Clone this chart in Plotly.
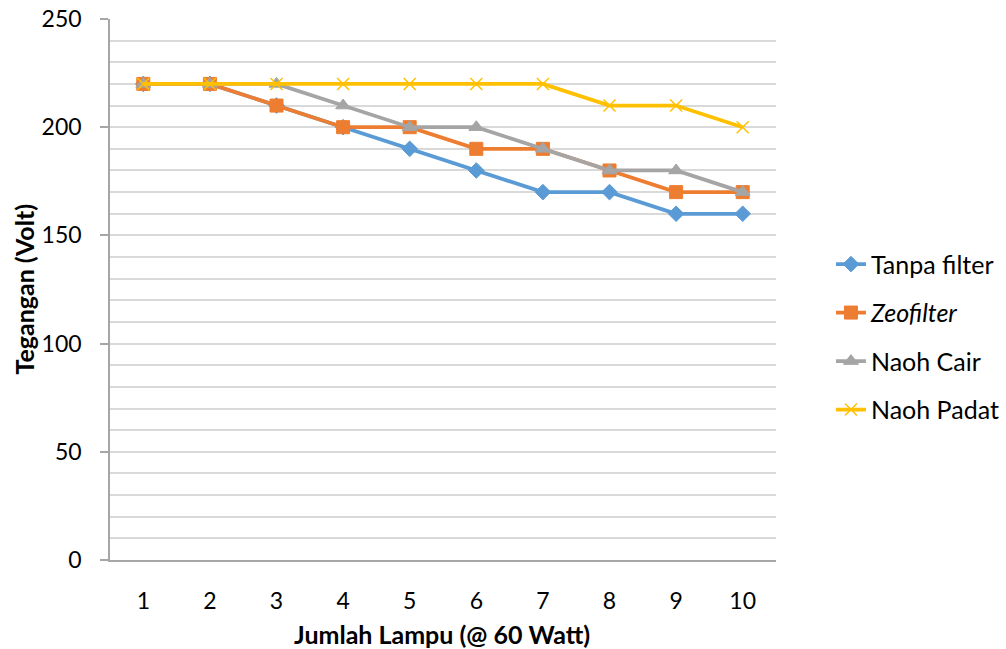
import plotly.graph_objects as go

categories = [1, 2, 3, 4, 5, 6, 7, 8, 9, 10]
tanpa_filter = [220, 220, 210, 200, 190, 180, 170, 170, 160, 160]
zeofilter = [220, 220, 210, 200, 200, 190, 190, 180, 170, 170]
naoh_cair = [220, 220, 220, 210, 200, 200, 190, 180, 180, 170]
naoh_padat = [220, 220, 220, 220, 220, 220, 220, 210, 210, 200]

series = [
    ("Tanpa filter", tanpa_filter, "#5B9BD5", "diamond", 12),
    ("<i>Zeofilter</i>", zeofilter, "#ED7D31", "square", 13),
    ("Naoh Cair", naoh_cair, "#A5A5A5", "triangle-up", 13),
    ("Naoh Padat", naoh_padat, "#FFC000", "x-thin", 12),
]

FONT = "Lato, Carlito, Calibri, sans-serif"

fig = go.Figure()
for i, (name, vals, color, sym, size) in enumerate(series):
    marker = dict(symbol=sym, size=size, color=color,
                  line=dict(color=color, width=1.5 if sym == "x-thin" else 1))
    fig.add_trace(go.Scatter(
        x=categories, y=vals, name=name, mode="lines+markers",
        line=dict(color=color, width=3.75),
        marker=marker, legendgroup=f"g{i}",
    ))

fig.update_layout(
    width=1006, height=649,
    margin=dict(l=110, r=230, t=19, b=89, autoexpand=False),
    paper_bgcolor="white", plot_bgcolor="white",
    font=dict(family=FONT, size=24, color="#000000"),
    showlegend=True,
    legend=dict(xref="container", yref="container", x=0.826, y=0.481,
                xanchor="left", yanchor="middle",
                font=dict(size=25), tracegroupgap=13, bgcolor="rgba(0,0,0,0)"),
    xaxis=dict(
        range=[0.5, 10.5], tickmode="array", tickvals=categories,
        ticktext=[str(c) for c in categories],
        showgrid=False, zeroline=False, automargin=False,
        showline=True, linecolor="#A6A6A6", linewidth=1.5,
        ticks="", ticklabelstandoff=20,
        tickfont=dict(size=23),
    ),
    yaxis=dict(
        range=[0, 250], dtick=50, tick0=0, automargin=False,
        showgrid=True, gridcolor="#D9D9D9", gridwidth=1.5,
        zeroline=False, showline=True, linecolor="#A6A6A6", linewidth=1.5,
        ticks="outside", ticklen=8, tickcolor="#A6A6A6", tickwidth=1.5,
        minor=dict(dtick=10, showgrid=True, gridcolor="#D9D9D9", gridwidth=1.5, ticks=""),
        tickfont=dict(size=23), ticklabelstandoff=14,
    ),
    annotations=[
        dict(text="<b>Jumlah Lampu (@ 60 Watt)</b>", xref="paper", yref="paper",
             x=0.498, y=-0.137, xanchor="center", yanchor="middle",
             showarrow=False, font=dict(size=25)),
        dict(text="<b>Tegangan (Volt)</b>", xref="paper", yref="paper",
             x=-0.1306, y=0.5, xanchor="center", yanchor="middle", textangle=-90,
             showarrow=False, font=dict(size=25)),
    ],
)

fig.write_html("out.html")
